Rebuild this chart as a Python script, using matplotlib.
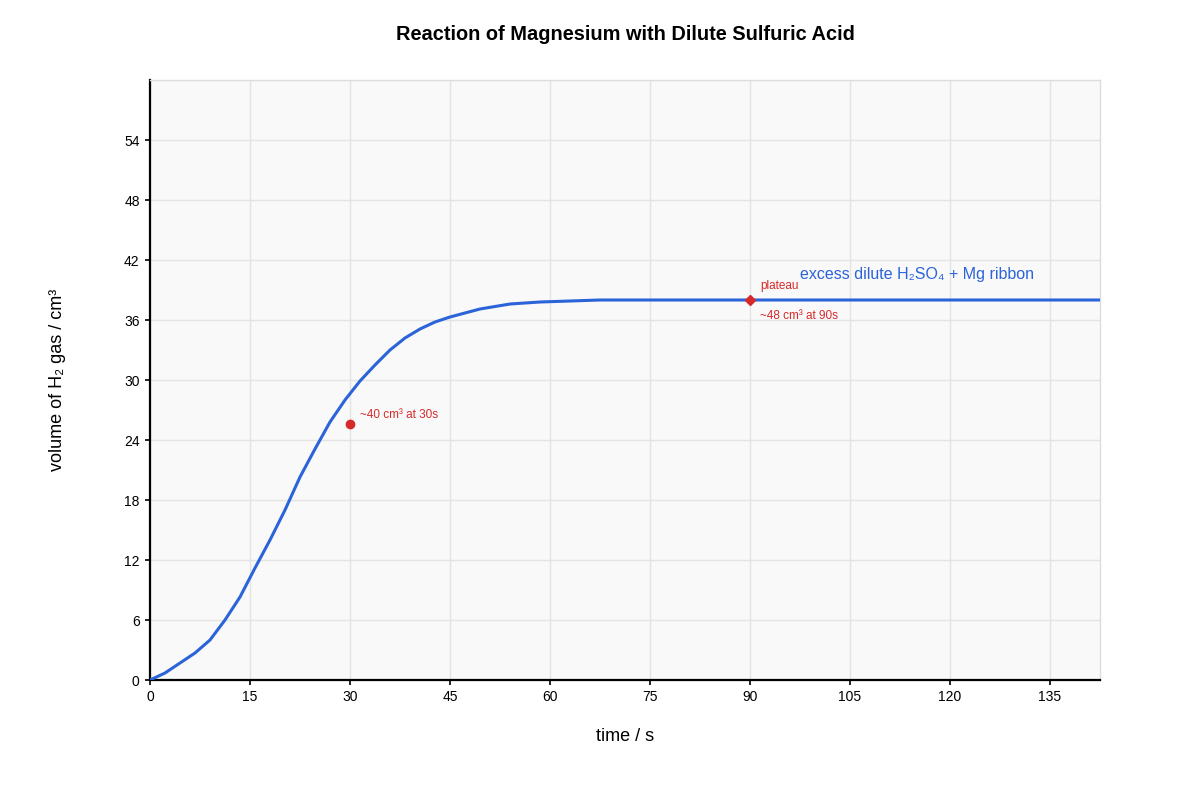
import matplotlib
matplotlib.use("Agg")
import matplotlib.pyplot as plt

plt.rcParams['font.family'] = ['Liberation Sans', 'DejaVu Sans']

# Data
time_s = [0, 2.25, 4.5, 6.75, 9, 11.25, 13.5, 15.75, 18, 20.25, 22.5, 24.75, 27,
          29.25, 31.5, 33.75, 36, 38.25, 40.5, 42.75, 45, 49.5, 54, 58.5, 63, 67.5, 142.5]
volume = [0, 0.7, 1.7, 2.7, 4.0, 6.0, 8.3, 11.2, 14.0, 17.0, 20.3, 23.1, 25.8,
          28.0, 29.9, 31.5, 33.0, 34.2, 35.1, 35.8, 36.3, 37.1, 37.6, 37.8, 37.9, 38.0, 38.0]
series_label = "excess dilute H\u2082SO\u2084 + Mg ribbon"

marker_dot = (30, 25.6)
marker_dot_label = "~40 cm\u00b3 at 30s"
marker_diamond = (90, 38.0)
diamond_label_above = "plateau"
diamond_label_below = "~48 cm\u00b3 at 90s"

x_ticks = list(range(0, 136, 15))
y_ticks = list(range(0, 55, 6))

blue = "#2b63d9"
red = "#d62a2a"

fig = plt.figure(figsize=(12, 8), dpi=100)
ax = fig.add_axes([0.125, 0.15, 0.79167, 0.75])
ax.set_facecolor("#f9f9f9")

ax.plot(time_s, volume, color=blue, lw=2.2, solid_joinstyle='round',
        solid_capstyle='round', zorder=3)
ax.plot([marker_dot[0]], [marker_dot[1]], 'o', color=red, ms=6, zorder=4)
ax.plot([marker_diamond[0]], [marker_diamond[1]], 'D', color=red, ms=5.5, zorder=4)

ax.annotate(marker_dot_label, marker_dot, xytext=(7.5, 6.5), textcoords='offset points',
            color=red, fontsize=8.5, ha='left', va='center')
ax.annotate(diamond_label_above, marker_diamond, xytext=(7.5, 10), textcoords='offset points',
            color=red, fontsize=8.5, ha='left', va='center')
ax.annotate(diamond_label_below, marker_diamond, xytext=(7.5, -11.5), textcoords='offset points',
            color=red, fontsize=8.5, ha='left', va='center')
ax.annotate(series_label, marker_diamond, xytext=(36, 18.5),
            textcoords='offset points', color=blue, fontsize=11.5, ha='left', va='center')

ax.set_xlim(0, 142.5)
ax.set_ylim(0, 60)
ax.set_xticks(x_ticks)
ax.set_yticks(y_ticks)
ax.tick_params(axis='both', labelsize=10, length=3.8, width=1.2, pad=3.6,
               color='black', direction='out')
ax.grid(True, color='#e4e4e4', lw=1)
ax.set_axisbelow(True)

for s in ['left', 'bottom']:
    ax.spines[s].set_color('black')
    ax.spines[s].set_linewidth(1.6)
for s in ['top', 'right']:
    ax.spines[s].set_color('#dddddd')
    ax.spines[s].set_linewidth(1)

ax.set_xlabel("time / s", fontsize=13, labelpad=17)
ax.set_ylabel("volume of H\u2082 gas / cm\u00b3", fontsize=13, labelpad=42)
fig.text(0.5208, 0.957, "Reaction of Magnesium with Dilute Sulfuric Acid",
         fontsize=14.4, fontweight='bold', ha='center', va='center')

fig.savefig("out.png", dpi=100)
